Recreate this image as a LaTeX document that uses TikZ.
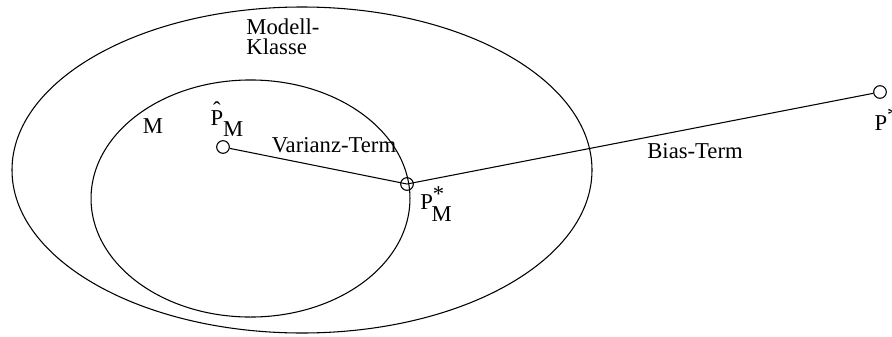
\documentclass[tikz,border=0pt]{standalone}
\usepackage{fontspec}
\setmainfont{Liberation Serif}
\usetikzlibrary{calc}

\tikzset{
  pt/.style={circle,draw,inner sep=0pt,minimum size=9.5pt},
  lbl/.style={font=\fontsize{17}{15}\selectfont,inner sep=0pt}
}
\newcommand{\PhatM}{\rlap{\kern0.11em\raisebox{0.36em}{\symbol{"02C6}}}P\raisebox{-1.1ex}{M}}
\newcommand{\PstarM}{P\rlap{\raisebox{0.8ex}{*}}\kern-1pt\raisebox{-1.1ex}{M}}

\begin{document}
\begin{tikzpicture}[x=0.75pt,y=-0.75pt,line width=0.8pt]
\useasboundingbox (0,0) rectangle (892,336);

% model class and sub model
\draw (302,170) ellipse [x radius=217.5pt,y radius=122.25pt];
\draw (250.5,198.5) ellipse [x radius=119.6pt,y radius=88.9pt];

\node[pt] (phat) at (223,147) {};
\node[pt] (pm) at (407,184) {};
\node[pt] (pstar) at (880,92) {};

\draw (phat) -- (pm.center) -- (pstar);

\node[lbl,align=left] (klasse) at (283,37) {Modell-\\Klasse};
\node[lbl] (mlbl) at (153,126) {M};
\node[lbl] (phatlbl) at (227,119) {\PhatM};
\node[lbl] (varianz) at (334,145) {Varianz-Term};
\node[lbl] (bias) at (695,151) {Bias-Term};
\node[lbl] (pmlbl) at (436,204) {\PstarM};
\node[lbl,anchor=west] (pstarlbl) at (874,119) {P\raisebox{0.8ex}{*}};

\end{tikzpicture}
\end{document}
